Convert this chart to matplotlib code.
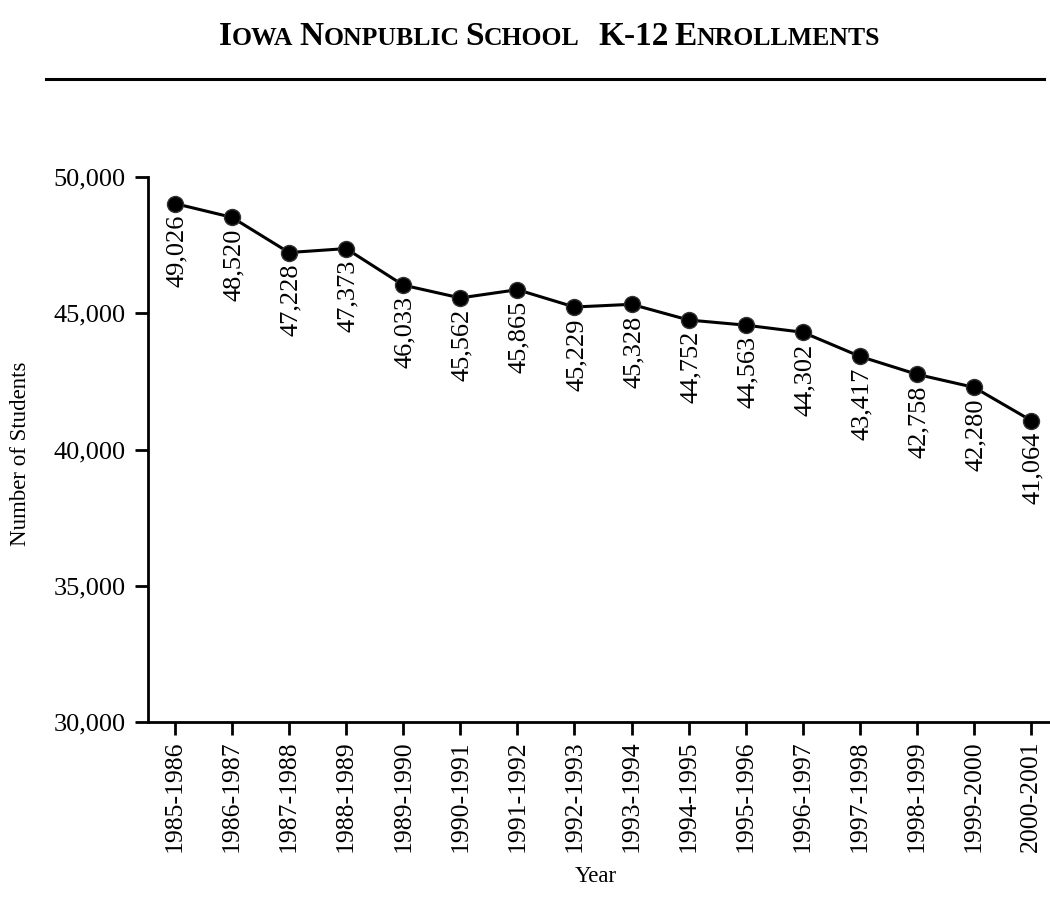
import matplotlib
matplotlib.use("Agg")
import matplotlib.pyplot as plt
from matplotlib.lines import Line2D

## data
years = ["1985-1986", "1986-1987", "1987-1988", "1988-1989", "1989-1990",
         "1990-1991", "1991-1992", "1992-1993", "1993-1994", "1994-1995",
         "1995-1996", "1996-1997", "1997-1998", "1998-1999", "1999-2000",
         "2000-2001"]
students = [49026, 48520, 47228, 47373, 46033, 45562, 45865, 45229, 45328,
            44752, 44563, 44302, 43417, 42758, 42280, 41064]
y_ticks = [30000, 35000, 40000, 45000, 50000]

plt.rcParams["font.family"] = ["Liberation Serif", "DejaVu Serif"]

fig = plt.figure(figsize=(10.5, 9.11), dpi=100)
ax = fig.add_axes([148 / 1050, 1 - 722 / 911, 1 - 148 / 1050 + 0.02, (722 - 177) / 911])

x = list(range(len(years)))
ax.plot(x, students, color="black", lw=2.2, marker="o", markersize=11.5,
        markerfacecolor="black", markeredgecolor="#333333", markeredgewidth=1, zorder=3)

## rotated value labels under each point
for xi, v in zip(x, students):
    ax.annotate(f"{v:,}", (xi, v), xytext=(1.5, -8), textcoords="offset points",
                rotation=90, ha="center", va="top", fontsize=19)

ax.set_xlim(-0.47, 15.33 + 0.02 * 1050 / 57.07)
ax.set_ylim(30000, 50000)
ax.set_xticks(x)
ax.set_xticklabels(years, rotation=90, fontsize=18.5)
ax.set_yticks(y_ticks)
ax.set_yticklabels([f"{t:,}" for t in y_ticks], fontsize=19)
ax.tick_params(axis="both", direction="out", length=9.5, width=2, color="black", pad=4)
ax.tick_params(axis="y", pad=6.5)
for s in ("top", "right"):
    ax.spines[s].set_visible(False)
for s in ("left", "bottom"):
    ax.spines[s].set_linewidth(2)
ax.spines["bottom"].set_bounds(-0.47, 16)

fig.text(20 / 1050, 1 - 454 / 911, "Number of Students", rotation=90,
         ha="center", va="center", fontsize=16.5)
fig.text(596 / 1050, 1 - 876 / 911, "Year", ha="center", va="center", fontsize=16.5)

## rule under the title
fig.add_artist(Line2D([46 / 1050, 1044 / 1050], [1 - 79 / 911, 1 - 79 / 911],
                      color="black", lw=2.2))

## small caps title, built piece by piece
big, small = 24, 18.5
pieces = [("I", big), ("OWA", small), (" ", small), ("N", big), ("ONPUBLIC", small),
          (" ", small), ("S", big), ("CHOOL", small), ("   ", small), ("K-12", big),
          (" ", small), ("E", big), ("NROLLMENTS", small)]
renderer = fig.canvas.get_renderer()
widths = []
for txt, size in pieces:
    if txt.strip() == "":
        t = fig.text(0, 0, "M", fontsize=size, fontweight="bold")
        w = t.get_window_extent(renderer).width * 0.25 * len(txt)
    else:
        t = fig.text(0, 0, txt, fontsize=size, fontweight="bold")
        w = t.get_window_extent(renderer).width
    t.remove()
    widths.append(w)
total = sum(widths)
x0 = 549.5 - total / 2
baseline = 1 - 45 / 911
for (txt, size), w in zip(pieces, widths):
    if txt.strip():
        fig.text(x0 / 1050, baseline, txt, fontsize=size, fontweight="bold",
                 ha="left", va="baseline")
    x0 += w

fig.savefig("out.png", dpi=100)
